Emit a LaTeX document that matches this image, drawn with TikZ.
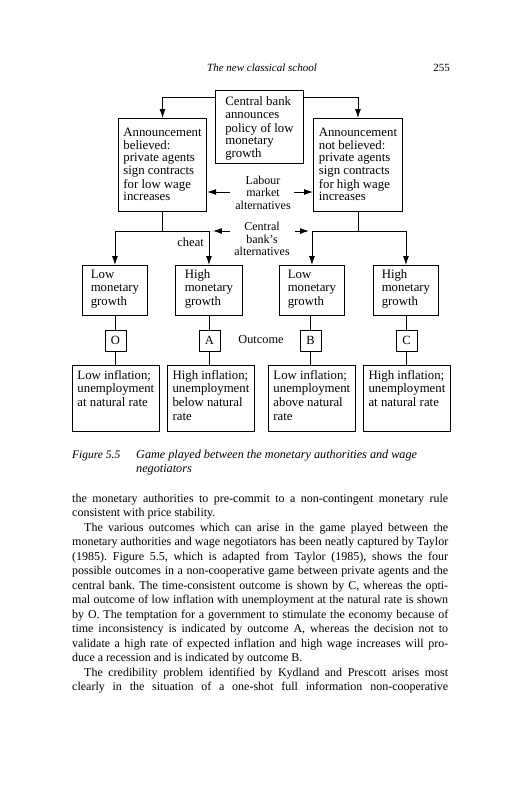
\documentclass[tikz,border=0pt]{standalone}
\usepackage{fontspec}
\setmainfont{Liberation Serif}
\usetikzlibrary{arrows.meta}
\frenchspacing
\newcommand\lline[1]{\hbox{\strut #1}}
\newcommand\jl[1]{\hbox to 376pt{#1}}
\newcommand\jli[1]{\hbox to 376pt{\kern12pt #1}}
\newcommand\nl[1]{\hbox{#1}}
\newcommand\bx[8]{\node[box, minimum width={(#4-#2)*1pt}, minimum height={(#5-#3)*1pt}] (#1) at (#2,#3) {\parbox[c][\dimexpr #5pt-#3pt\relax][t]{\dimexpr #4pt-#2pt-10pt\relax}{\fontsize{12.8}{#7}\selectfont\vspace*{#6pt}#8}};}
\tikzset{
  box/.style={draw, line width=0.9pt, inner xsep=5pt, inner ysep=0pt, anchor=north west},
  obox/.style={draw, line width=0.9pt, inner sep=0pt, minimum width=21pt, minimum height=21pt, font=\fontsize{12.5}{13}\selectfont},
  arr/.style={-{Latex[length=9pt,width=6pt]}, line width=0.9pt},
  ln/.style={line width=0.9pt},
  lbl/.style={inner sep=0pt, font=\fontsize{12}{12.5}\selectfont},
}
\begin{document}
\begin{tikzpicture}[x=1pt,y=-1pt]
\useasboundingbox (0,0) rectangle (532,800);
\fill[white] (0,0) rectangle (532,800);

% page header
\node[anchor=base, inner sep=0pt, font=\fontsize{11}{13}\selectfont\itshape] (hdr) at (262,71) {The new classical school};
\node[anchor=base east, inner sep=0pt, font=\fontsize{11}{13}\selectfont] (pg) at (450,71) {255};

% boxes
\bx{cb}{215}{90}{303}{163}{6}{12.8}{\lline{Central bank}\lline{announces}\lline{policy of low}\lline{monetary}\lline{growth}}
\bx{lb}{118}{118}{205}{211}{9}{12.7}{\lline{Announcement}\lline{believed:}\lline{private agents}\lline{sign contracts}\lline{for low wage}\lline{increases}}
\bx{rb}{313}{118}{402}{211}{9}{12.7}{\lline{Announcement}\lline{not believed:}\lline{private agents}\lline{sign contracts}\lline{for high wage}\lline{increases}}

\bx{b1}{82}{265}{147}{315}{3}{13.7}{\lline{Low}\lline{monetary}\lline{growth}}
\bx{b2}{175}{265}{242}{315}{3}{13.7}{\lline{High}\lline{monetary}\lline{growth}}
\bx{b3}{279}{265}{344}{315}{3}{13.7}{\lline{Low}\lline{monetary}\lline{growth}}
\bx{b4}{373}{265}{438}{315}{3}{13.7}{\lline{High}\lline{monetary}\lline{growth}}

\node[obox] (oO) at (115.5,340.5) {O};
\node[obox] (oA) at (209.5,340.5) {A};
\node[obox] (oB) at (310.5,340.5) {B};
\node[obox] (oC) at (406.5,340.5) {C};

\bx{bO}{72}{365}{158}{431}{4}{13.7}{\lline{Low inflation;}\lline{unemployment}\lline{at natural rate}}
\bx{bA}{167}{365}{254}{431}{4}{13.7}{\lline{High inflation;}\lline{unemployment}\lline{below natural}\lline{rate}}
\bx{bB}{268}{365}{349}{431}{4}{13.7}{\lline{Low inflation;}\lline{unemployment}\lline{above natural}\lline{rate}}
\bx{bC}{363}{365}{450}{431}{4}{13.7}{\lline{High inflation;}\lline{unemployment}\lline{at natural rate}}

% labels
\node[lbl, anchor=base] (lab) at (263,184) {\parbox[t]{90pt}{\centering Labour\\market\\alternatives}};
\node[lbl, anchor=base] (cba) at (262,230.5) {\parbox[t]{90pt}{\centering Central\\bank’s\\alternatives}};
\node[lbl, anchor=base east, font=\fontsize{12.5}{13}\selectfont] (cheat) at (204,246) {cheat};
\node[lbl, anchor=base, font=\fontsize{12.3}{13}\selectfont] (outc) at (261,343) {Outcome};

% top connectors
\draw[arr] ([yshift=-7pt]cb.north west) -| (lb.north);
\draw[arr] ([yshift=-7pt]cb.north east) -| (rb.north);

% labour market arrows
\coordinate (la) at (230,192);
\coordinate (ra) at (294,192);
\draw[arr] (la) -- (la -| lb.east);
\draw[arr] (ra) -- (ra -| rb.west);

% branches
\coordinate (jl) at (0,231);
\draw[ln] (lb.south) -- (lb.south |- jl);
\draw[arr] (lb.south |- jl) -| (b1.north);
\draw[arr] (lb.south |- jl) -| (b2.north);
\draw[ln] (rb.south) -- (rb.south |- jl);
\draw[arr] (rb.south |- jl) -| (b3.north);
\draw[arr] (rb.south |- jl) -| (b4.north);

% central bank's alternatives arrows
\coordinate (ca) at (230,231);
\coordinate (cr) at (295,231);
\draw[arr, shorten >=4pt] (ca) -- (ca -| b2.north);
\draw[arr, shorten >=3pt] (cr) -- (cr -| b3.north);

% outcome connectors
\foreach \u/\o/\v in {b1/oO/bO, b2/oA/bA, b3/oB/bB, b4/oC/bC}{
  \draw[ln] (\o.north |- \u.south) -- (\o.north);
  \draw[ln] (\o.south) -- (\o.south |- \v.north);
}

% caption
\node[anchor=base west, inner sep=0pt, font=\fontsize{11.5}{14}\selectfont\itshape] (figno) at (72,458) {Figure 5.5};
\node[anchor=base west, inner sep=0pt, font=\fontsize{12.2}{14}\selectfont\itshape] (cap) at (136,458) {\parbox[t]{320pt}{\raggedright Game played between the monetary authorities and wage\\negotiators}};

% body text
\node[anchor=base west, inner sep=0pt, font=\fontsize{12}{14.5}\selectfont] (body) at (72,502) {\parbox[t]{376pt}{%
\jl{the monetary authorities to pre-commit to a non-contingent monetary rule}%
\nl{consistent with price stability.}%
\jli{The various outcomes which can arise in the game played between the}%
\jl{monetary authorities and wage negotiators has been neatly captured by Taylor}%
\jl{(1985). Figure 5.5, which is adapted from Taylor (1985), shows the four}%
\jl{possible outcomes in a non-cooperative game between private agents and the}%
\jl{central bank. The time-consistent outcome is shown by C, whereas the opti-}%
\jl{mal outcome of low inflation with unemployment at the natural rate is shown}%
\jl{by O. The temptation for a government to stimulate the economy because of}%
\jl{time inconsistency is indicated by outcome A, whereas the decision not to}%
\jl{validate a high rate of expected inflation and high wage increases will pro-}%
\nl{duce a recession and is indicated by outcome B.}%
\jli{The credibility problem identified by Kydland and Prescott arises most}%
\jl{clearly in the situation of a one-shot full information non-cooperative}}};
\end{tikzpicture}
\end{document}
